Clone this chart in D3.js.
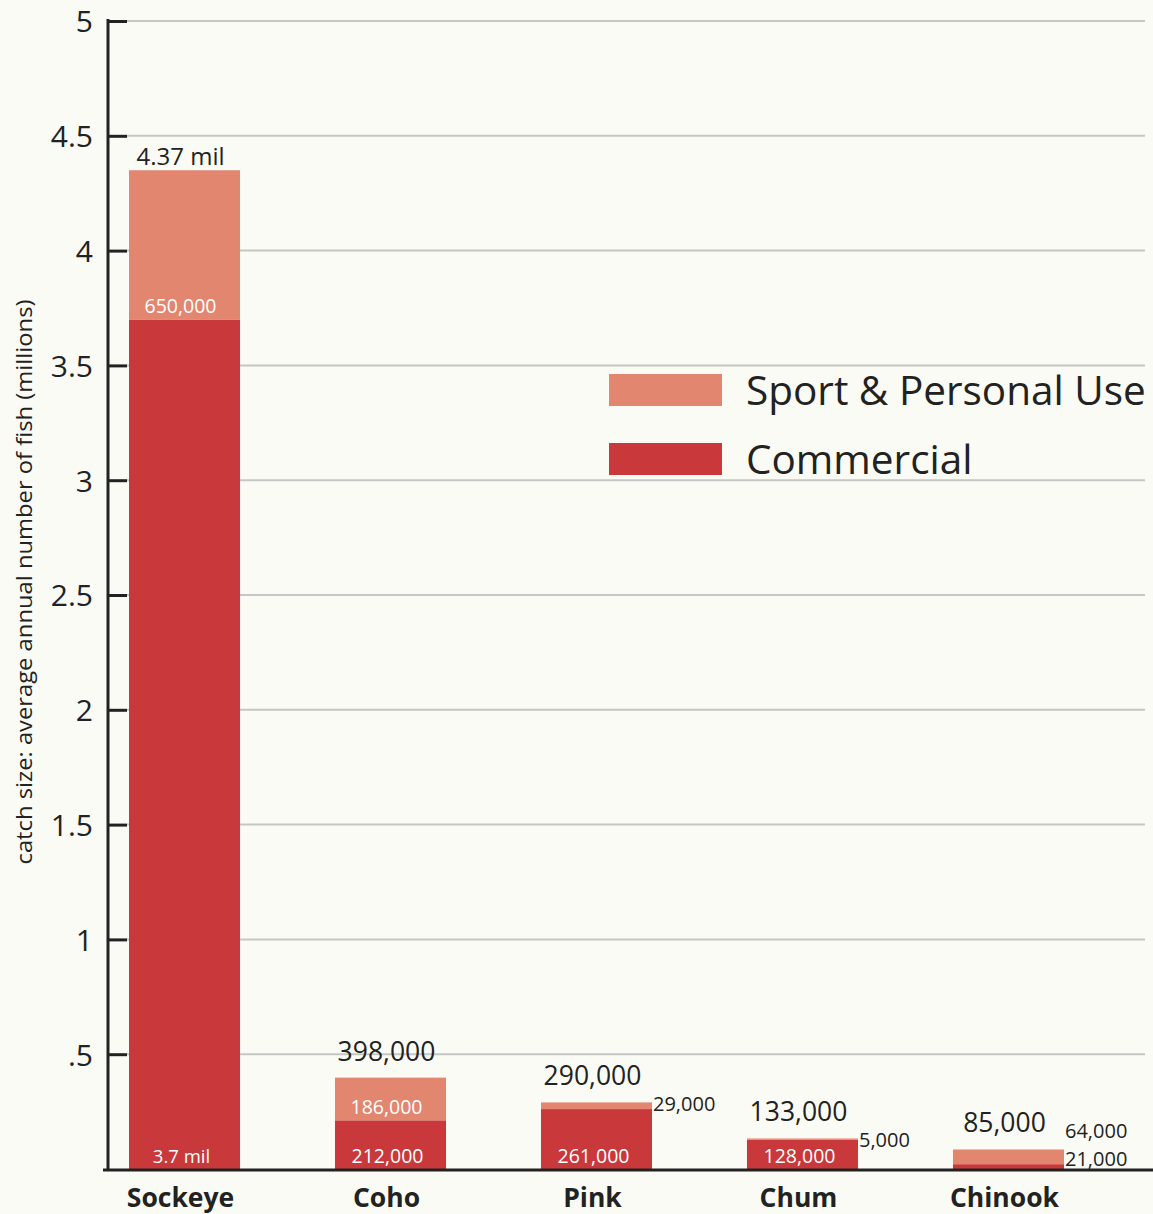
<!DOCTYPE html>
<html>
<head>
<meta charset="utf-8">
<script src="https://cdn.jsdelivr.net/npm/d3@7.9.0/dist/d3.min.js"></script>
<style>
  body { margin: 0; background: #fbfbf5; }
  svg { display: block; font-family: "Open Sans", "Noto Sans", sans-serif; }
</style>
</head>
<body>
<div id="chart"></div>
<script>
// salmon catch by species (millions of fish)
const species = ["Sockeye", "Coho", "Pink", "Chum", "Chinook"];
const commercial = [3.70, 0.212, 0.261, 0.128, 0.021];
const sport = [0.65, 0.186, 0.029, 0.005, 0.064];
const totalLabels = ["4.37 mil", "398,000", "290,000", "133,000", "85,000"];
const commercialLabels = ["3.7 mil", "212,000", "261,000", "128,000", "21,000"];
const sportLabels = ["650,000", "186,000", "29,000", "5,000", "64,000"];
const yTicks = [0.5, 1, 1.5, 2, 2.5, 3, 3.5, 4, 4.5, 5];
const yTickLabels = [".5", "1", "1.5", "2", "2.5", "3", "3.5", "4", "4.5", "5"];
const seriesNames = ["Sport & Personal Use", "Commercial"];

const colors = { sport: "#e2866f", commercial: "#c9383a" };

const W = 1153, H = 1214;
const margin = { top: 21, right: 8, bottom: 45, left: 108 };
const height = H - margin.top - margin.bottom;

const svg = d3.select("#chart").append("svg")
  .attr("width", W).attr("height", H);

svg.append("rect").attr("width", W).attr("height", H).attr("fill", "#fbfbf5");

const y = d3.scaleLinear().domain([0, 5]).range([margin.top + height, margin.top]);
const x = d3.scaleBand().domain(species)
  .range([129, 1064])
  .paddingInner(0.461).paddingOuter(0);

// gridlines
svg.append("g").selectAll("line").data(yTicks).enter().append("line")
  .attr("x1", margin.left + 19).attr("x2", 1145)
  .attr("y1", d => y(d)).attr("y2", d => y(d))
  .attr("stroke", "#c6c6c6").attr("stroke-width", 2);

// y axis
const yAxis = svg.append("g")
  .attr("transform", `translate(${margin.left},0)`)
  .call(d3.axisRight(y).tickValues(yTicks).tickSize(19)
    .tickFormat((d, i) => yTickLabels[i]));
yAxis.attr("font-family", null).attr("font-size", null);
yAxis.select(".domain").remove();
yAxis.selectAll(".tick line").attr("stroke", "#222").attr("stroke-width", 3);
yAxis.selectAll(".tick text")
  .attr("x", -15).attr("text-anchor", "end").attr("dy", "0.36em")
  .attr("fill", "#222").style("font-size", "30px");
svg.append("line")
  .attr("x1", margin.left).attr("x2", margin.left)
  .attr("y1", y(5) - 2).attr("y2", y(0) + 2)
  .attr("stroke", "#222").attr("stroke-width", 3);

// axis title
svg.append("text")
  .attr("transform", `translate(32,582) rotate(-90)`)
  .attr("text-anchor", "middle")
  .attr("fill", "#222").style("font-size", "21px")
  .attr("textLength", 565).attr("lengthAdjust", "spacingAndGlyphs")
  .text("catch size: average annual number of fish (millions)");

// bars
const g = svg.append("g").selectAll("g").data(species).enter().append("g");
g.append("rect")
  .attr("x", d => x(d)).attr("width", x.bandwidth())
  .attr("y", (d, i) => y(commercial[i]))
  .attr("height", (d, i) => y(0) - y(commercial[i]))
  .attr("fill", colors.commercial);
g.append("rect")
  .attr("x", d => x(d)).attr("width", x.bandwidth())
  .attr("y", (d, i) => y(commercial[i] + sport[i]))
  .attr("height", (d, i) => y(commercial[i]) - y(commercial[i] + sport[i]))
  .attr("fill", colors.sport);

// baseline
svg.append("line")
  .attr("x1", margin.left - 5).attr("x2", W)
  .attr("y1", y(0) + 1).attr("y2", y(0) + 1)
  .attr("stroke", "#222").attr("stroke-width", 3);

// total labels
g.append("text")
  .attr("x", d => x(d) + x.bandwidth() / 2 - 4)
  .attr("y", (d, i) => y(commercial[i] + sport[i]) - (i === 0 ? 5 : 17))
  .attr("text-anchor", "middle").attr("fill", "#222")
  .style("font-size", (d, i) => i === 0 ? "24px" : "26.5px")
  .text((d, i) => totalLabels[i]);

// commercial labels
g.append("text")
  .attr("x", (d, i) => i === 4 ? x(d) + x.bandwidth() + 1 : x(d) + x.bandwidth() / 2 - 3)
  .attr("y", (d, i) => i === 4 ? y(0) - 3 : y(0) - 6)
  .attr("text-anchor", (d, i) => i === 4 ? "start" : "middle")
  .attr("fill", (d, i) => i === 4 ? "#222" : "#fff")
  .style("font-size", (d, i) => i === 0 ? "18.5px" : i === 4 ? "20px" : "19.5px")
  .text((d, i) => commercialLabels[i]);

// sport labels: inside for tall segments, beside for small ones
g.append("text")
  .attr("x", (d, i) => i < 2 ? x(d) + x.bandwidth() / 2 - 4 : x(d) + x.bandwidth() + 1)
  .attr("y", (d, i) => {
    if (i < 2) return y(commercial[i]) - 6;
    if (i === 4) return y(commercial[i] + sport[i]) - 11;
    return y(commercial[i] + sport[i]) + 9;
  })
  .attr("text-anchor", (d, i) => i < 2 ? "middle" : "start")
  .attr("fill", (d, i) => i < 2 ? "#fff" : "#222")
  .style("font-size", (d, i) => i < 2 ? "19.5px" : "20px")
  .text((d, i) => sportLabels[i]);

// category labels
g.append("text")
  .attr("x", d => x(d) + x.bandwidth() / 2 - 4)
  .attr("y", y(0) + 38)
  .attr("text-anchor", "middle").attr("fill", "#222")
  .style("font-size", "26.5px").style("font-weight", "bold")
  .text(d => d);

// legend
const legend = svg.append("g").selectAll("g").data(seriesNames).enter().append("g")
  .attr("transform", (d, i) => `translate(609,${374 + i * 69})`);
legend.append("rect")
  .attr("width", 113).attr("height", 32)
  .attr("fill", (d, i) => i === 0 ? colors.sport : colors.commercial);
legend.append("text")
  .attr("x", 137).attr("y", 31)
  .attr("fill", "#222").style("font-size", "40.5px")
  .text(d => d);
</script>
</body>
</html>
